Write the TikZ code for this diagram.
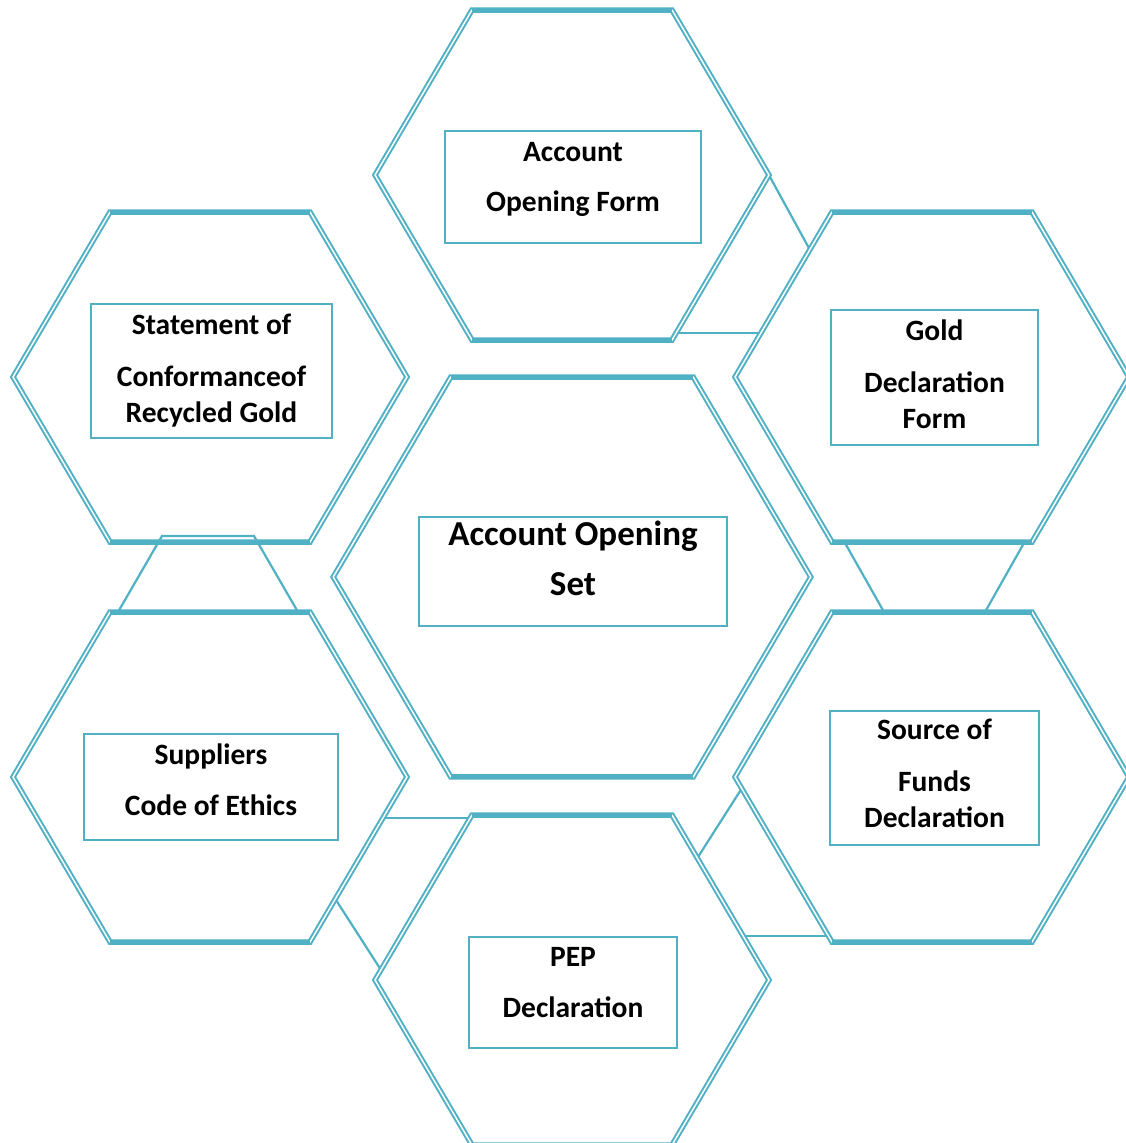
\documentclass[tikz,border=0pt]{standalone}
\usepackage{fontspec}
\setmainfont{Carlito}
\usetikzlibrary{positioning}
\definecolor{hex-teal}{RGB}{80,176,196}

% one honeycomb cell round a coordinate, #2 is the size
\newcommand{\hexcell}[2]{%
  \draw[hexline, shift={(#1)}, scale=#2] (-197,0) -- (-100,165) -- (100,165) -- (197,0) -- (100,-165) -- (-100,-165) -- cycle;
  \draw[hexrim, shift={(#1)}, scale=#2] (-100,165) -- (100,165) (-100,-165) -- (100,-165);
}

\begin{document}
\begin{tikzpicture}[x=1pt,y=1pt,
    hexline/.style={draw=hex-teal, double=white, line width=2pt, double distance=1.5pt},
    hexrim/.style={draw=hex-teal, line width=5pt},
    link/.style={draw=hex-teal, line width=2.2pt},
    tbox/.style={draw=hex-teal, line width=1.8pt, inner sep=0pt},
    lbl/.style={font={\fontsize{29.5}{36}\selectfont\bfseries}, align=center, inner sep=0pt, anchor=north},
    biglbl/.style={font={\fontsize{35}{40}\selectfont\bfseries}, align=center, inner sep=0pt, anchor=north}]
    \useasboundingbox (0,0) rectangle (1125,-1143);

    \coordinate (cset) at (572,-577);
    \coordinate [above=402 of cset] (cform);
    \coordinate [below=403 of cset] (cpep);
    \coordinate [above left=200 and 362 of cset] (cstmt);
    \coordinate [above right=200 and 360 of cset] (cgold);
    \coordinate [below left=200 and 362 of cset] (csupp);
    \coordinate [below right=200 and 360 of cset] (csrc);

    % links between the cells
    \coordinate (k1) at (770,-177);  \coordinate (k2) at (810,-250);
    \coordinate (k3) at (676,-333);  \coordinate (k4) at (762,-333);
    \draw[link] (k1) -- (k2);
    \draw[link] (k3) -- (k4);

    \coordinate (s1) at (118,-612);  \coordinate (s2) at (162,-536);
    \coordinate (s3) at (254,-536);  \coordinate (s4) at (298,-612);
    \draw[link] (s1) -- (s2) -- (s3) -- (s4);

    \coordinate (g1) at (845,-543);  \coordinate (g2) at (884,-612);
    \coordinate (g3) at (1024,-543); \coordinate (g4) at (985,-612);
    \draw[link] (g1) -- (g2);
    \draw[link] (g3) -- (g4);

    \coordinate (p1) at (384,-818);  \coordinate (p2) at (471,-818);
    \coordinate (p3) at (336,-900);  \coordinate (p4) at (381,-970);
    \draw[link] (p1) -- (p2);
    \draw[link] (p3) -- (p4);

    \coordinate (r1) at (742,-788);  \coordinate (r2) at (698,-857);
    \coordinate (r3) at (745,-936);  \coordinate (r4) at (830,-936);
    \draw[link] (r1) -- (r2);
    \draw[link] (r3) -- (r4);

    % the cells
    \hexcell{cset}{1.212}
    \hexcell{cform}{1}
    \hexcell{cpep}{1}
    \hexcell{cstmt}{1}
    \hexcell{cgold}{1}
    \hexcell{csupp}{1}
    \hexcell{csrc}{1}

    % boxes and their texts
    \node[tbox, minimum width=308pt, minimum height=109pt] (bset) at ([shift={(1pt,5.5pt)}]cset) {};
    \node[biglbl] (tset) at ([yshift=-5pt]bset.north) {Account Opening\\[10pt]Set};

    \node[tbox, minimum width=256pt, minimum height=112pt] (bform) at ([shift={(1pt,-12pt)}]cform) {};
    \node[lbl] (tform) at ([yshift=-12pt]bform.north) {Account\\[14pt]Opening Form};

    \node[tbox, minimum width=241pt, minimum height=134pt] (bstmt) at ([shift={(1.5pt,6pt)}]cstmt) {};
    \node[lbl] (tstmt) at ([yshift=-11pt]bstmt.north) {Statement of\\[16pt]Conformanceof\\Recycled Gold};

    \node[tbox, minimum width=207pt, minimum height=135pt] (bgold) at ([shift={(2.5pt,-0.5pt)}]cgold) {};
    \node[lbl] (tgold) at ([yshift=-10pt]bgold.north) {Gold\\[16pt]Declaration\\Form};

    \node[tbox, minimum width=254pt, minimum height=106pt] (bsupp) at ([shift={(1pt,-10pt)}]csupp) {};
    \node[lbl] (tsupp) at ([yshift=-10pt]bsupp.north) {Suppliers\\[15pt]Code of Ethics};

    \node[tbox, minimum width=209pt, minimum height=134pt] (bsrc) at ([shift={(2.5pt,-1pt)}]csrc) {};
    \node[lbl] (tsrc) at ([yshift=-9pt]bsrc.north) {Source of\\[16pt]Funds\\Declaration};

    \node[tbox, minimum width=208pt, minimum height=111pt] (bpep) at ([shift={(1pt,-12.5pt)}]cpep) {};
    \node[lbl] (tpep) at ([yshift=-11pt]bpep.north) {PEP\\[15pt]Declaration};
\end{tikzpicture}
\end{document}
